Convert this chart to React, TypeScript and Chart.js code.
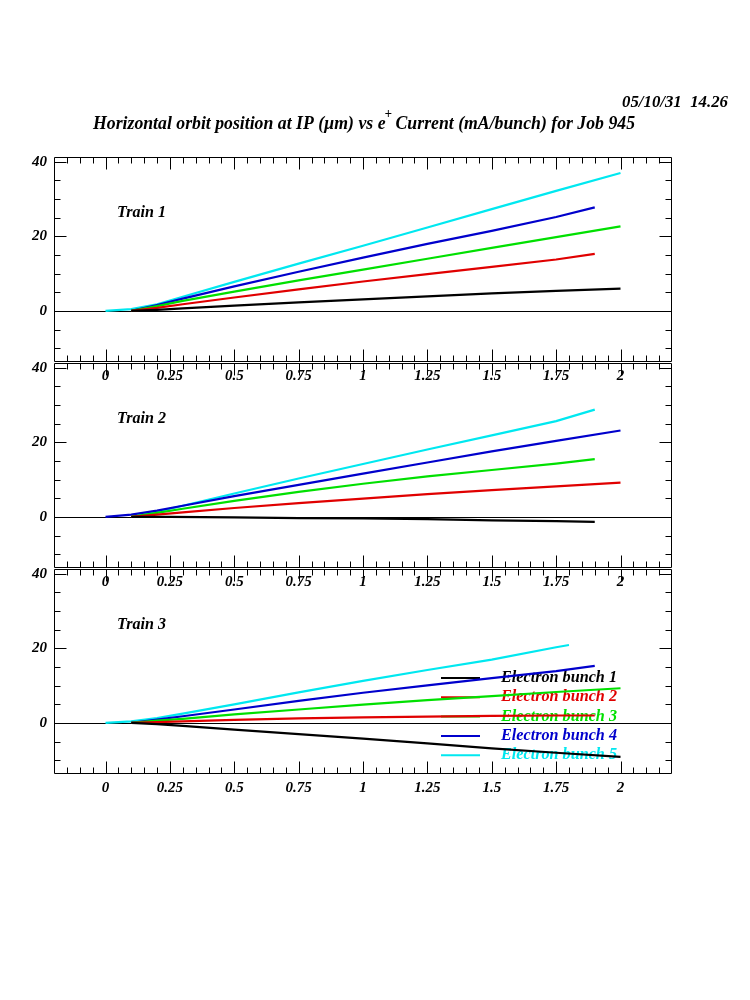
import React, { useEffect, useRef } from 'react';
import { Chart, registerables } from 'chart.js';

Chart.register(...registerables);

// ---------------- data ----------------
const TITLE_PARTS = ['Horizontal orbit position at IP (\u00b5m) vs e', '+', ' Current (mA/bunch) for Job 945'];
const DATE_TEXT = '05/10/31  14.26';
const TRAIN_LABELS = ['Train 1', 'Train 2', 'Train 3'];
const BUNCH_LABELS = ['Electron bunch 1', 'Electron bunch 2', 'Electron bunch 3', 'Electron bunch 4', 'Electron bunch 5'];
const BUNCH_COLORS = ['#000000', '#e00000', '#00e000', '#0000cc', '#00e8f0'];
const X_TICKS = [0, 0.25, 0.5, 0.75, 1, 1.25, 1.5, 1.75, 2];
const X_TICK_LABELS = ['0', '0.25', '0.5', '0.75', '1', '1.25', '1.5', '1.75', '2'];
const Y_TICKS = [0, 20, 40];
const Y_TICK_LABELS = ['0', '20', '40'];
const X_MIN = -0.2;
const X_MAX = 2.2;
const Y_MIN = -13.7;
const Y_MAX = 41.3;

type Pt = [number, number];

// Train 1
const T1_B1: Pt[] = [[0.1, 0], [0.2, 0.3], [0.3, 0.7], [0.5, 1.4], [0.75, 2.3], [1, 3.1], [1.25, 3.9], [1.5, 4.7], [1.75, 5.4], [2, 6.0]];
const T1_B2: Pt[] = [[0.1, 0], [0.2, 0.8], [0.3, 1.8], [0.5, 3.6], [0.75, 5.8], [1, 7.9], [1.25, 9.9], [1.5, 11.8], [1.75, 13.8], [1.9, 15.3]];
const T1_B3: Pt[] = [[0.1, 0], [0.2, 1.3], [0.3, 2.7], [0.5, 5.2], [0.75, 8.2], [1, 11.1], [1.25, 14.0], [1.5, 16.9], [1.75, 19.8], [2, 22.7]];
const T1_B4: Pt[] = [[0.1, 0], [0.2, 1.6], [0.3, 3.3], [0.5, 6.6], [0.75, 10.5], [1, 14.3], [1.25, 18.0], [1.5, 21.5], [1.75, 25.2], [1.9, 27.8]];
const T1_B5: Pt[] = [[0, 0], [0.1, 0.5], [0.2, 1.8], [0.3, 3.8], [0.5, 7.8], [0.75, 12.7], [1, 17.5], [1.25, 22.4], [1.5, 27.3], [1.75, 32.2], [2, 37.0]];

// Train 2
const T2_B1: Pt[] = [[0.1, 0], [0.25, 0], [0.5, -0.1], [0.75, -0.3], [1, -0.4], [1.25, -0.6], [1.5, -0.9], [1.75, -1.1], [1.9, -1.3]];
const T2_B2: Pt[] = [[0.1, 0], [0.2, 0.6], [0.3, 1.2], [0.5, 2.4], [0.75, 3.7], [1, 4.9], [1.25, 6.1], [1.5, 7.2], [1.75, 8.2], [2, 9.2]];
const T2_B3: Pt[] = [[0.1, 0], [0.2, 1.1], [0.3, 2.2], [0.5, 4.3], [0.75, 6.7], [1, 8.9], [1.25, 10.9], [1.5, 12.6], [1.75, 14.3], [1.9, 15.5]];
const T2_B4: Pt[] = [[0, 0], [0.1, 0.6], [0.2, 1.7], [0.3, 3.0], [0.5, 5.6], [0.75, 8.6], [1, 11.6], [1.25, 14.6], [1.5, 17.6], [1.75, 20.4], [2, 23.2]];
const T2_B5: Pt[] = [[0.1, 0], [0.2, 1.4], [0.3, 3.0], [0.5, 6.3], [0.75, 10.3], [1, 14.2], [1.25, 18.1], [1.5, 21.9], [1.75, 25.7], [1.9, 28.8]];

// Train 3
const T3_B1: Pt[] = [[0.1, 0], [0.2, -0.3], [0.3, -0.8], [0.5, -1.8], [0.75, -3.0], [1, -4.2], [1.25, -5.5], [1.5, -6.8], [1.75, -8.0], [2, -9.1]];
const T3_B2: Pt[] = [[0.1, 0], [0.3, 0.4], [0.5, 0.8], [0.75, 1.2], [1, 1.5], [1.25, 1.7], [1.5, 1.9], [1.75, 2.0], [1.9, 2.0]];
const T3_B3: Pt[] = [[0.1, 0], [0.2, 0.6], [0.3, 1.1], [0.5, 2.3], [0.75, 3.6], [1, 4.9], [1.25, 6.1], [1.5, 7.2], [1.75, 8.3], [2, 9.3]];
const T3_B4: Pt[] = [[0.1, 0], [0.2, 0.9], [0.3, 1.8], [0.5, 3.6], [0.75, 5.9], [1, 8.1], [1.25, 10.1], [1.5, 12.0], [1.75, 13.9], [1.9, 15.3]];
const T3_B5: Pt[] = [[0, 0], [0.1, 0.4], [0.2, 1.3], [0.3, 2.5], [0.5, 5.0], [0.75, 8.2], [1, 11.3], [1.25, 14.2], [1.5, 17.0], [1.75, 20.3], [1.8, 20.9]];

const TRAIN_SERIES: Pt[][][] = [
  [T1_B1, T1_B2, T1_B3, T1_B4, T1_B5],
  [T2_B1, T2_B2, T2_B3, T2_B4, T2_B5],
  [T3_B1, T3_B2, T3_B3, T3_B4, T3_B5],
];

// ---------------- layout ----------------
const FRAME_LEFT = 54;
const FRAME_RIGHT = 672;
const PANEL_TOPS = [157, 363, 569];
const PANEL_H = 205;
const FONT_FAMILY = '"Liberation Serif", "DejaVu Serif", serif';
const font = (size: number) => `italic bold ${size}px ${FONT_FAMILY}`;

function drawText(
  ctx: CanvasRenderingContext2D,
  text: string,
  x: number,
  y: number,
  size: number,
  color: string,
  align: CanvasTextAlign,
  targetWidth?: number
) {
  ctx.save();
  ctx.font = font(size);
  ctx.fillStyle = color;
  ctx.textBaseline = 'middle';
  ctx.textAlign = align;
  const w = ctx.measureText(text).width;
  const s = targetWidth ? targetWidth / w : 1;
  ctx.translate(x, y);
  ctx.scale(s, 1);
  ctx.fillText(text, 0, 0);
  ctx.restore();
}

function makePanelPlugin(idx: number) {
  return {
    id: 'panelDecor' + idx,
    beforeDatasetsDraw(chart: any) {
      const { ctx, chartArea: a, scales } = chart;
      const ys = scales.y;
      ctx.save();
      const y0 = Math.round(ys.getPixelForValue(0)) + 0.5;
      ctx.strokeStyle = '#000';
      ctx.lineWidth = 1;
      ctx.beginPath();
      ctx.moveTo(a.left, y0);
      ctx.lineTo(a.right, y0);
      ctx.stroke();
      drawText(ctx, TRAIN_LABELS[idx], a.left + 63, a.top + 56, 16, '#000', 'left', 49);
      if (idx === 2) {
        for (let i = 0; i < BUNCH_LABELS.length; i++) {
          const ly = a.top + 109 + i * 19.3;
          ctx.strokeStyle = BUNCH_COLORS[i];
          ctx.lineWidth = 2;
          ctx.beginPath();
          ctx.moveTo(441, ly);
          ctx.lineTo(480, ly);
          ctx.stroke();
          drawText(ctx, BUNCH_LABELS[i], 501, ly, 16, BUNCH_COLORS[i], 'left', 116);
        }
      }
      ctx.restore();
    },
    afterDatasetsDraw(chart: any) {
      const { ctx, chartArea: a, scales } = chart;
      const xs = scales.x;
      const ys = scales.y;
      ctx.save();
      ctx.strokeStyle = '#000';
      ctx.lineWidth = 1;
      const L = Math.round(a.left) + 0.5;
      const R = Math.round(a.right) - 0.5;
      const T = Math.round(a.top) + 0.5;
      const B = Math.round(a.bottom) - 0.5;
      ctx.beginPath();
      ctx.rect(L, T, R - L, B - T);
      ctx.stroke();
      ctx.beginPath();
      // x ticks (minor every 0.05, major every 0.25)
      for (let k = -3; k <= 43; k++) {
        const v = k * 0.05;
        const px = Math.round(xs.getPixelForValue(v)) + 0.5;
        const major = k % 5 === 0;
        const len = major ? 12 : 6;
        ctx.moveTo(px, B);
        ctx.lineTo(px, B - len);
        ctx.moveTo(px, T);
        ctx.lineTo(px, T + len);
      }
      // y ticks (minor every 5, major every 20)
      for (let k = -2; k <= 8; k++) {
        const v = k * 5;
        const py = Math.round(ys.getPixelForValue(v)) + 0.5;
        const major = k % 4 === 0;
        const len = major ? 12 : 6;
        ctx.moveTo(L, py);
        ctx.lineTo(L + len, py);
        ctx.moveTo(R, py);
        ctx.lineTo(R - len, py);
      }
      ctx.stroke();
      X_TICKS.forEach((v, i) => {
        drawText(ctx, X_TICK_LABELS[i], xs.getPixelForValue(v), a.bottom + 14, 15, '#000', 'center');
      });
      Y_TICKS.forEach((v, i) => {
        drawText(ctx, Y_TICK_LABELS[i], a.left - 7, ys.getPixelForValue(v), 15, '#000', 'right');
      });
      if (idx === 0) {
        // title with superscript
        const sizes = [19, 14, 19];
        const widths = TITLE_PARTS.map((t, i) => {
          ctx.font = font(sizes[i]);
          return ctx.measureText(t).width;
        });
        widths[1] *= 0.75;
        const total = widths.reduce((s, w) => s + w, 0);
        const targetW = 542;
        const sc = targetW / total;
        ctx.save();
        ctx.translate(93, 124);
        ctx.scale(sc, 1);
        ctx.fillStyle = '#000';
        ctx.textBaseline = 'middle';
        ctx.textAlign = 'left';
        let cx = 0;
        TITLE_PARTS.forEach((t, i) => {
          ctx.font = font(sizes[i]);
          ctx.fillText(t, i === 1 ? cx - 1 : cx, i === 1 ? -10 : 0);
          cx += widths[i];
        });
        ctx.restore();
        drawText(ctx, DATE_TEXT, 728, 103, 16, '#000', 'right', 106);
      }
      ctx.restore();
    },
  };
}

function Panel({ idx }: { idx: number }) {
  const ref = useRef<HTMLCanvasElement>(null);
  const canvasTop = idx === 0 ? 0 : PANEL_TOPS[idx] - 20;
  const padTop = PANEL_TOPS[idx] - canvasTop;
  const padBottom = 32;
  const h = padTop + PANEL_H + padBottom;
  useEffect(() => {
    const canvas = ref.current;
    if (!canvas) return;
    const series = TRAIN_SERIES[idx];
    const chart = new Chart(canvas, {
      type: 'line',
      data: {
        datasets: series.map((pts, i) => ({
          label: BUNCH_LABELS[i],
          data: pts.map(([x, y]) => ({ x, y })),
          borderColor: BUNCH_COLORS[i],
          backgroundColor: BUNCH_COLORS[i],
          borderWidth: 2.2,
          pointRadius: 0,
          tension: 0,
          fill: false,
        })),
      },
      options: {
        responsive: false,
        maintainAspectRatio: false,
        animation: false,
        events: [],
        layout: { padding: { top: padTop, bottom: padBottom, left: FRAME_LEFT, right: 750 - FRAME_RIGHT } },
        scales: {
          x: { type: 'linear', min: X_MIN, max: X_MAX, display: false },
          y: { type: 'linear', min: Y_MIN, max: Y_MAX, display: false },
        },
        plugins: { legend: { display: false }, tooltip: { enabled: false }, title: { display: false } },
      },
      plugins: [makePanelPlugin(idx)],
    });
    return () => chart.destroy();
  }, [idx]);
  return (
    <canvas
      ref={ref}
      width={750}
      height={h}
      style={{ position: 'absolute', left: 0, top: canvasTop, display: 'block' }}
    />
  );
}

export default function App() {
  return (
    <div style={{ position: 'absolute', left: 0, top: 0, width: 750, height: 1000, background: '#fff' }}>
      <Panel idx={0} />
      <Panel idx={1} />
      <Panel idx={2} />
    </div>
  );
}
